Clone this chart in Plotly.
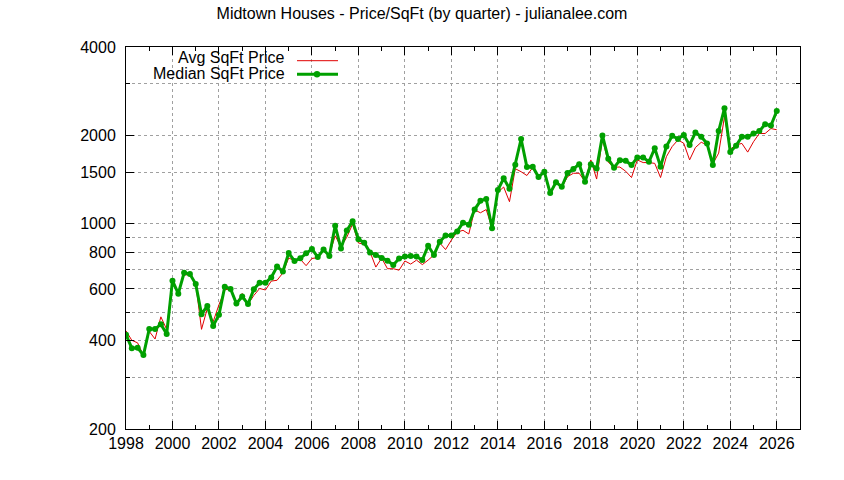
import plotly.graph_objects as go

# quarterly dates 1998.00 .. 2026.00
quarters = [1998 + i * 0.25 for i in range(113)]

avg_price = [
    432, 401, 393, 356, 430, 405, 482, 437,
    640, 585, 670, 670, 626, 437, 515, 464,
    530, 595, 602, 535, 579, 532, 570, 602,
    595, 638, 642, 680, 765, 748, 757, 720,
    762, 766, 806, 783, 910, 835, 900, 997,
    860, 852, 802, 712, 764, 703, 703, 695,
    747, 729, 752, 726, 752, 783, 860, 817,
    880, 937, 950, 923, 1115, 1090, 1118, 965,
    1280, 1334, 1189, 1540, 1504, 1460, 1555, 1435,
    1490, 1255, 1380, 1330, 1447, 1486, 1486, 1391,
    1650, 1420, 1940, 1620, 1560, 1560, 1510, 1437,
    1650, 1616, 1616, 1606, 1437, 1692, 1832, 1930,
    1880, 1650, 1818, 1895, 1856, 1600, 1740, 2316,
    1795, 1856, 1878, 1754, 1903, 2030, 2030, 2110,
    2090,
]

median_price = [
    419, 377, 378, 357, 438, 438, 455, 421,
    640, 578, 681, 674, 623, 492, 525, 449,
    490, 610, 600, 535, 565, 533, 598, 630,
    630, 656, 715, 688, 795, 747, 763, 793,
    821, 770, 817, 777, 985, 823, 948, 1020,
    885, 862, 798, 783, 764, 749, 724, 761,
    773, 776, 773, 753, 842, 783, 869, 912,
    912, 942, 1009, 993, 1118, 1197, 1215, 965,
    1303, 1428, 1316, 1590, 1944, 1560, 1565, 1443,
    1504, 1272, 1385, 1337, 1489, 1537, 1596, 1391,
    1595, 1542, 2000, 1666, 1552, 1647, 1640, 1585,
    1683, 1683, 1626, 1808, 1565, 1832, 1995, 1944,
    2005, 1856, 2045, 1980, 1878, 1585, 2070, 2474,
    1754, 1845, 1980, 1980, 2030, 2068, 2183, 2160,
    2422,
]

x_tick_vals = list(range(1998, 2027, 2))
x_tick_text = [str(v) for v in x_tick_vals]
y_major_vals = [200, 400, 600, 800, 1000, 1500, 2000, 4000]
y_major_text = [str(v) for v in y_major_vals]
y_minor_vals = [300, 500, 700, 900, 3000]

title_text = "Midtown Houses - Price/SqFt (by quarter) - julianalee.com"
series_names = ["Avg SqFt Price", "Median SqFt Price"]

RED = "#e00000"
GREEN = "#00a000"
GRID = "#a0a0a0"
FONT = "Liberation Sans, Arial, sans-serif"

fig = go.Figure()
fig.add_trace(go.Scatter(
    x=quarters, y=avg_price, mode="lines", name=series_names[0],
    line=dict(color=RED, width=1), showlegend=False,
))
fig.add_trace(go.Scatter(
    x=quarters, y=median_price, mode="lines+markers", name=series_names[1],
    line=dict(color=GREEN, width=3),
    marker=dict(color=GREEN, size=6, symbol="circle"),
    showlegend=False,
))

# plot area in pixels: left 126, right 800, top 47, bottom 429
W, H = 844, 480
L, R, T, B = 126, 44, 47, 51
pw, ph = W - L - R, H - T - B

def px_x(p):
    return (p - L) / pw

def px_y(p):
    return (H - B - p) / ph

# manual gnuplot-style legend (text, then sample)
annotations = []
shapes = []
text_y = [57.5, 73.5]
sample_y = [60.7, 74.3]
for i, (name, col) in enumerate(zip(series_names, [RED, GREEN])):
    annotations.append(dict(
        x=px_x(287), y=px_y(text_y[i]), xref="paper", yref="paper",
        text=name, showarrow=False, xanchor="right", yanchor="middle",
        font=dict(family=FONT, size=16, color="black"),
    ))
    sy = sample_y[i]
    shapes.append(dict(
        type="line", xref="paper", yref="paper",
        x0=px_x(297), x1=px_x(338), y0=px_y(sy), y1=px_y(sy),
        line=dict(color=col, width=1 if i == 0 else 3),
    ))
    if i == 1:
        shapes.append(dict(
            type="circle", xref="paper", yref="paper",
            xsizemode="pixel", ysizemode="pixel",
            xanchor=px_x(317), yanchor=px_y(sy),
            x0=-3.2, x1=3.2, y0=-3.2, y1=3.2,
            fillcolor=col, line=dict(color=col, width=0),
        ))

fig.update_layout(
    width=W, height=H,
    margin=dict(l=L, r=R, t=T, b=B, autoexpand=False),
    paper_bgcolor="white", plot_bgcolor="white",
    font=dict(family=FONT, size=16, color="black"),
    title=dict(
        text=title_text, x=0.5, xref="container", xanchor="center",
        y=1 - 13.5 / H, yref="container", yanchor="middle",
        font=dict(family=FONT, size=16, color="black"),
    ),
    annotations=annotations,
    shapes=shapes,
    showlegend=False,
)

fig.update_xaxes(
    range=[1998, 2027], tickmode="array", tickvals=x_tick_vals, ticktext=x_tick_text,
    ticks="inside", ticklen=8, tickwidth=1, tickcolor="black",
    showline=True, linecolor="black", linewidth=1, mirror="allticks",
    showgrid=True, gridcolor=GRID, gridwidth=1, griddash="3px,3px",
    zeroline=False,
    tickfont=dict(family=FONT, size=16, color="black"),
    minor=dict(dtick=1, tick0=1998, ticks="inside", ticklen=4, tickcolor="black",
               showgrid=False),
)
fig.update_yaxes(
    type="log", range=[2.30103, 3.60206],
    tickmode="array", tickvals=y_major_vals, ticktext=y_major_text,
    ticks="inside", ticklen=8, tickwidth=1, tickcolor="black",
    ticklabelstandoff=6,
    showline=True, linecolor="black", linewidth=1, mirror="allticks",
    showgrid=True, gridcolor=GRID, gridwidth=1, griddash="3px,3px",
    zeroline=False,
    tickfont=dict(family=FONT, size=16, color="black"),
    minor=dict(tickmode="array", tickvals=y_minor_vals, ticks="inside", ticklen=4,
               tickcolor="black", showgrid=True, gridcolor=GRID, gridwidth=1,
               griddash="3px,3px"),
)

fig.write_html("out.html", config={"displayModeBar": False},
               post_script="document.body.style.margin='0';")
